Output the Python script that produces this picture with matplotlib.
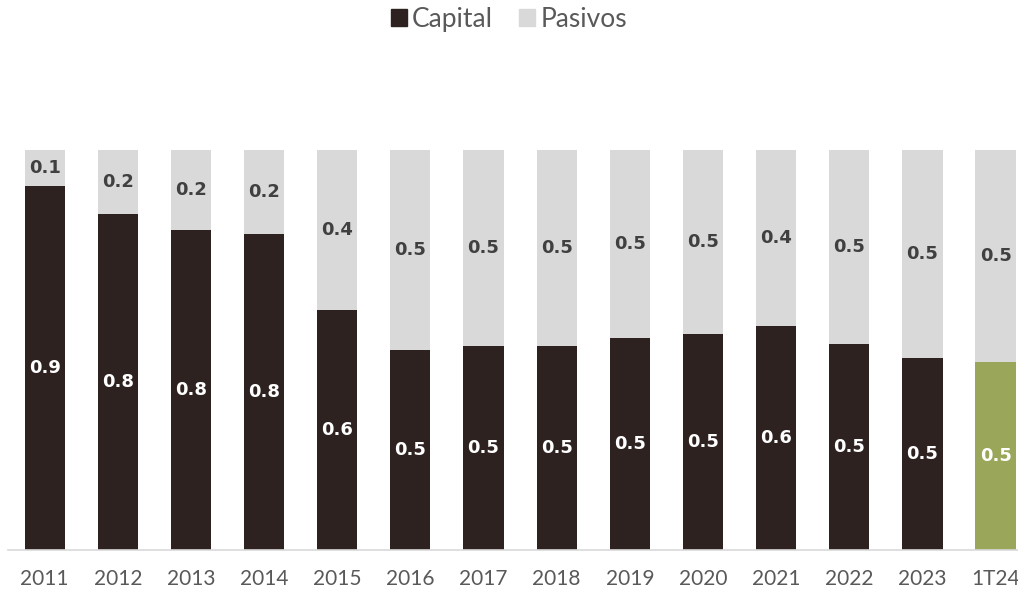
import matplotlib
matplotlib.use("Agg")
import matplotlib.pyplot as plt
from matplotlib.patches import Patch

categories = ["2011", "2012", "2013", "2014", "2015", "2016", "2017", "2018", "2019", "2020", "2021", "2022", "2023", "1T24"]
capital = [0.91, 0.84, 0.80, 0.79, 0.60, 0.50, 0.51, 0.51, 0.53, 0.54, 0.56, 0.515, 0.48, 0.47]
pasivos = [1 - c for c in capital]

c_cap = "#2D2220"
c_pas = "#D9D9D9"
c_green = "#9AA75A"

plt.rcParams['font.family'] = ['Lato', 'DejaVu Sans']

fig = plt.figure(figsize=(10.18, 5.95), dpi=100)
ax = fig.add_axes([0.0079, 0.0756, 1.006, 0.6723])

x = list(range(len(categories)))
cap_colors = [c_cap] * (len(categories) - 1) + [c_green]
ax.bar(x, capital, width=0.55, color=cap_colors)
ax.bar(x, pasivos, width=0.55, bottom=capital, color=c_pas)

for i in x:
    ax.text(i, capital[i] / 2, f"{capital[i]:.1f}", ha="center", va="center",
            color="white", fontsize=13, fontweight="bold", family=["DejaVu Sans"])
    ax.text(i, capital[i] + pasivos[i] / 2, f"{pasivos[i]:.1f}", ha="center", va="center",
            color="#404040", fontsize=13, fontweight="bold", family=["DejaVu Sans"])

ax.set_xlim(-0.5, len(categories) - 0.5)
ax.set_ylim(0, 1)
ax.set_yticks([])
ax.set_xticks(x)
ax.set_xticklabels(categories, fontsize=15, color="#595959")
ax.tick_params(axis="x", length=0, pad=14)
for s in ["top", "right", "left"]:
    ax.spines[s].set_visible(False)
ax.spines["bottom"].set_color("#D9D9D9")
ax.spines["bottom"].set_linewidth(1.2)

handles = [Patch(color=c_cap, label="Capital"), Patch(color=c_pas, label="Pasivos")]
fig.legend(handles=handles, loc="center", bbox_to_anchor=(0.5, 0.968), ncol=2, frameon=False,
           fontsize=19, handlelength=0.6, handleheight=0.6, handletextpad=0.2, columnspacing=1.0,
           labelcolor="#595959")

fig.savefig("out.png", dpi=100)
